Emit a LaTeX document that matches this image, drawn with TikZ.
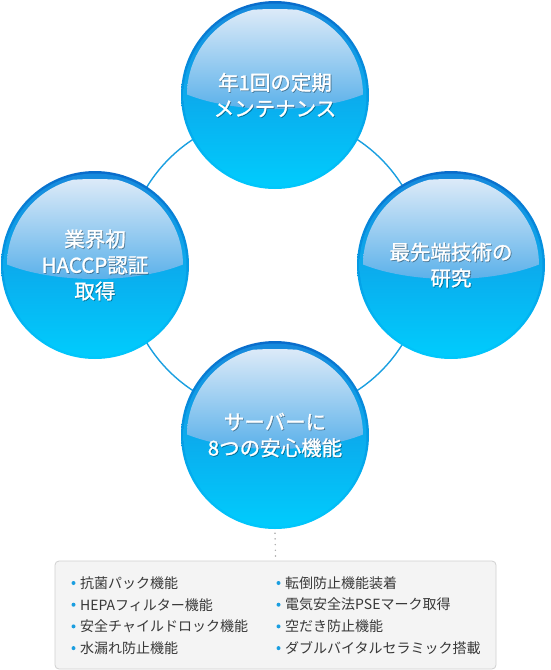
\documentclass[tikz,border=0pt]{standalone}
\usepackage{fontspec}
\newfontfamily\jp{Noto Sans CJK JP}
\newfontfamily\jpm[FakeBold=1.3]{Noto Sans CJK JP}
\definecolor{rimtop}{HTML}{0A6CCB}
\definecolor{rimbot}{HTML}{00C8FC}
\definecolor{bodytop}{HTML}{1789DC}
\definecolor{bodymid}{HTML}{0A9CE6}
\definecolor{bodybot}{HTML}{00CCFD}
\definecolor{hitop}{HTML}{DCEAF8}
\definecolor{hibot}{HTML}{5BB1EA}
\definecolor{ringc}{HTML}{1A9FE0}
\definecolor{boxfill}{HTML}{F4F4F4}
\definecolor{boxline}{HTML}{D0D0D0}
\definecolor{listtext}{HTML}{383838}
\definecolor{bulletc}{HTML}{1A9EE0}
\definecolor{dotc}{HTML}{A8A8A8}
\tikzset{
  ballnode/.style={circle, minimum size=188pt, inner sep=0pt},
  balltext/.style={text=white, align=center, font=\jpm\fontsize{20.5}{26}\selectfont, inner sep=0pt},
  ballshadow/.style={text=black, opacity=0.3, align=center, font=\jpm\fontsize{20.5}{26}\selectfont, inner sep=0pt},
  listitem/.style={anchor=west, inner sep=0pt, text=listtext, font=\jp\fontsize{14}{16}\selectfont},
  ringline/.style={draw=ringc, line width=1.4pt},
  dotline/.style={draw=dotc, line width=1.6pt, line cap=round, dash pattern=on 0pt off 5.7pt},
  listbox/.style={draw=boxline, fill=boxfill, rounded corners=4pt, minimum width=441pt, minimum height=108pt, inner sep=0pt, line width=0.8pt}
}
\newcommand\mysphere[4]{%
  \node[ballnode] (#1) at (#2,#3) {};
  \shade[top color=rimtop, bottom color=rimbot] (#1.center) circle (94pt);
  \shade[top color=bodytop, middle color=bodymid, bottom color=bodybot] (#1.center) circle (91.5pt);
  \begin{scope}
    \clip (#1.center) circle (88pt);
    \shade[top color=hitop, bottom color=hibot] ([yshift=36pt]#1.center) ellipse (125pt and 50pt);
  \end{scope}
  \node[ballshadow] at ([xshift=0.8pt,yshift=-0.8pt]#1.center) {#4};
  \node[balltext] (#1t) at (#1.center) {#4};
}
\begin{document}
\begin{tikzpicture}[x=1pt,y=-1pt]
\useasboundingbox (0,0) rectangle (550,670);
\coordinate (ringc) at (275,265);
\draw[ringline] (ringc) circle (150pt);
\mysphere{top}{275}{95}{年1回の定期\\メンテナンス}
\mysphere{left}{95}{265}{業界初\\HACCP認証\\取得}
\mysphere{right}{451}{265}{最先端技術の\\研究}
\mysphere{bot}{275}{435}{サーバーに\\8つの安心機能}
\node[listbox] (box) at (275.5,615) {};
\draw[dotline] ([yshift=-4pt]bot.south) -- ([yshift=4pt]box.north);
\node[listitem] (a1) at (80,583) {抗菌パック機能};
\node[listitem] (a2) at (80,604.7) {HEPAフィルター機能};
\node[listitem] (a3) at (80,626.4) {安全チャイルドロック機能};
\node[listitem] (a4) at (80,648.1) {水漏れ防止機能};
\node[listitem] (b1) at (285,583) {転倒防止機能装着};
\node[listitem] (b2) at (285,604.7) {電気安全法PSEマーク取得};
\node[listitem] (b3) at (285,626.4) {空だき防止機能};
\node[listitem] (b4) at (285,648.1) {ダブルバイタルセラミック搭載};
\foreach \n in {a1,a2,a3,a4,b1,b2,b3,b4}{
  \fill[bulletc] ([xshift=-6.5pt]\n.west) circle (2pt);
}
\end{tikzpicture}
\end{document}
